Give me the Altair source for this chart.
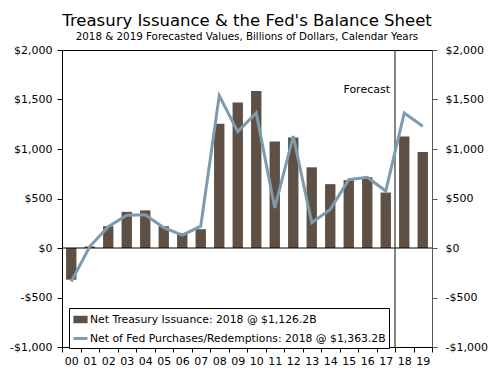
import altair as alt
import pandas as pd

years = ["00", "01", "02", "03", "04", "05", "06", "07", "08", "09",
         "10", "11", "12", "13", "14", "15", "16", "17", "18", "19"]
issuance = [-320, 15, 220, 365, 380, 220, 150, 190, 1255, 1470,
            1585, 1075, 1115, 815, 645, 685, 715, 560, 1126.2, 970]
fed = [-340, 15, 215, 330, 335, 205, 130, 220, 1540, 1175,
       1365, 405, 1130, 255, 390, 690, 715, 575, 1363.2, 1230]
series_names = ["Net Treasury Issuance: 2018 @ $1,126.2B",
                "Net of Fed Purchases/Redemptions: 2018 @ $1,363.2B"]
y_ticks = [-1000, -500, 0, 500, 1000, 1500, 2000]
forecast_year = "18"

BAR = "#5e5044"
LINE = "#7d9aae"
FONT = "DejaVu Sans"

df = pd.DataFrame({"year": years, "issuance": issuance, "fed": fed})
one = pd.DataFrame({"a": [0]})
leg_df = pd.DataFrame({"series": series_names})

ydom = alt.Scale(domain=[-1000, 2000], nice=False, zero=False)
label_expr = "(datum.value < 0 ? '-' : '') + '$' + format(abs(datum.value), ',')"

xaxis = alt.Axis(title=None, labelAngle=0, tickBand="extent", domainColor="black",
                 tickColor="black", tickSize=5, labelFontSize=11, labelColor="black",
                 labelFont=FONT, labelPadding=3)
xenc = alt.X("year:O", scale=alt.Scale(paddingInner=0, paddingOuter=0), axis=xaxis)


def yaxis(orient, color, pad):
    return alt.Axis(title=None, orient=orient, values=y_ticks, labelExpr=label_expr,
                    grid=False, domainColor=color, tickColor=color, tickSize=5,
                    labelFontSize=11, labelColor="black", labelFont=FONT, labelPadding=pad)


legend = alt.Legend(
    title=None, orient="none", legendX=7, legendY=258, padding=3,
    strokeColor="black", fillColor="white", labelFontSize=10.8, labelFont=FONT,
    labelColor="black", symbolSize=196, rowPadding=2, labelOffset=1, cornerRadius=0,
    symbolStrokeWidth=3, symbolOpacity=1, labelLimit=400,
)

bars = alt.Chart(df).mark_bar(width=alt.RelativeBandSize(0.56), color=BAR).encode(
    x=xenc,
    y=alt.Y("issuance:Q", scale=ydom, axis=yaxis("left", "black", 5)),
)
zero = alt.Chart(one).mark_rule(color="black", strokeWidth=1).encode(
    y=alt.YDatum(0)
)
frule = alt.Chart(one).mark_rule(color="#333333", strokeWidth=1.2).encode(
    x=alt.XDatum(forecast_year, type="ordinal", bandPosition=0)
)
ftext = alt.Chart(one).mark_text(align="right", dx=-5, fontSize=11, font=FONT,
                                 color="black", baseline="middle").encode(
    x=alt.XDatum(forecast_year, type="ordinal", bandPosition=0),
    y=alt.value(40),
    text=alt.value("Forecast"),
)
legpts = alt.Chart(leg_df).mark_point(filled=True, opacity=0).encode(
    x=alt.value(0), y=alt.value(0),
    color=alt.Color("series:N", scale=alt.Scale(domain=series_names, range=[BAR, LINE]), legend=legend),
    stroke=alt.Stroke("series:N", scale=alt.Scale(domain=series_names, range=[BAR, LINE]), legend=legend),
    shape=alt.Shape("series:N", scale=alt.Scale(domain=series_names,
                                                range=["M-0.8,-0.33H0.8V0.33H-0.8Z", "M-1,0H1"]),
                    legend=legend),
)
left = alt.layer(bars, zero, frule, ftext, legpts)

line = alt.Chart(df).mark_line(strokeWidth=3, color=LINE).encode(
    x=xenc,
    y=alt.Y("fed:Q", scale=ydom, axis=yaxis("right", "#555555", 8)),
)

chart = alt.layer(left, line).resolve_scale(y="independent").properties(
    width=370, height=297,
    autosize=alt.AutoSizeParams(type="none"),
    padding={"left": 54, "top": 42, "right": 60, "bottom": 22},
    title=alt.Title("Treasury Issuance & the Fed's Balance Sheet",
                    subtitle="2018 & 2019 Forecasted Values, Billions of Dollars, Calendar Years",
                    font=FONT, fontSize=16.5, fontWeight="normal", color="black",
                    subtitleFont=FONT, subtitleFontSize=10.3, subtitleColor="black",
                    anchor="middle", offset=2, subtitlePadding=2),
).configure_view(stroke="black", strokeWidth=1)

chart.save("out.html", embed_options={"renderer": "svg", "actions": False})
